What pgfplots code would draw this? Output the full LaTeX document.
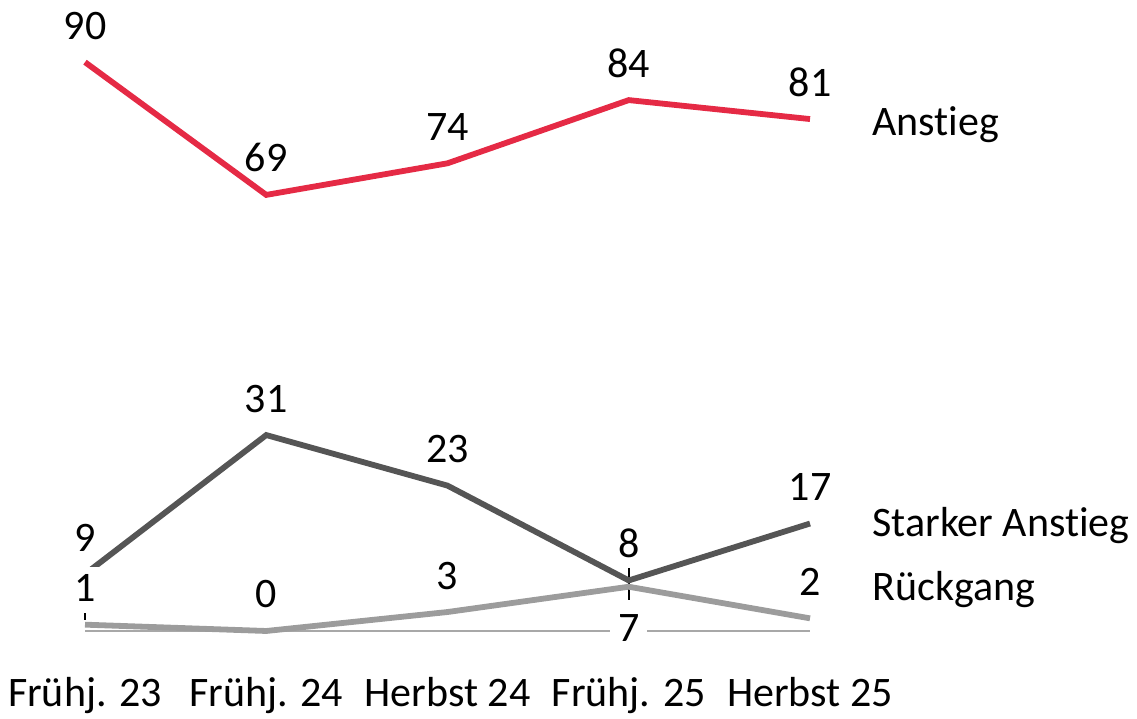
\documentclass[border=0pt]{standalone}
\usepackage{pgfplots}
\pgfplotsset{compat=1.18}
\usepackage{fontspec}
\setmainfont{Carlito}[Ligatures={NoCommon}]
\definecolor{cRed}{HTML}{E52A45}
\definecolor{cDark}{HTML}{555555}
\definecolor{cLight}{HTML}{9C9C9C}
\definecolor{cBase}{HTML}{A8A8A8}
\begin{document}
\fontsize{21}{25}\selectfont
\begin{tikzpicture}
\begin{axis}[
  scale only axis,
  width=362.5pt, height=284.4pt,
  xmin=0, xmax=4, ymin=0, ymax=90,
  clip=false,
  axis line style={draw=none},
  tick style={draw=none},
  ytick=\empty,
  xtick={0,1,2,3,4},
  xticklabels={Frühj. 23, Frühj. 24, Herbst 24, Frühj. 25, Herbst 25},
  xticklabel style={anchor=base, yshift=-38pt, font=\fontsize{21}{25}\selectfont},
  every node near coord/.style={anchor=base, yshift=11.5pt, font=\fontsize{21}{25}\selectfont, text=black},
  /pgf/number format/assume math mode=true,
]
% bounding box corners
\coordinate (bbA) at (axis cs:-0.469,-13.77);
\coordinate (bbB) at (axis cs:5.804,99.84);
% baseline
\addplot[cBase, line width=1pt, forget plot] coordinates {(0,0) (4,0)};
% small ticks
\addplot[black, line width=0.9pt, forget plot] coordinates {(0,1.75) (0,2.85)};
\addplot[black, line width=0.9pt, forget plot] coordinates {(3,9.97) (3,4.9)};
% series
\addplot[cLight, line width=2.9pt] coordinates {(0,1) (1,0) (2,3) (3,7) (4,2)};
\addplot[cDark, line width=2.9pt, nodes near coords] coordinates {(0,9) (1,31) (2,23) (3,8) (4,17)};
\addplot[draw=none, nodes near coords, every node near coord/.style={anchor=base, yshift=11.5pt, fill=white, inner sep=4pt, font=\fontsize{21}{25}\selectfont, text=black}] coordinates {(0,1) (1,0) (2,3) (4,2)};
\addplot[cRed, line width=2.9pt, nodes near coords] coordinates {(0,90) (1,69) (2,74) (3,84) (4,81)};
\addplot[draw=none, nodes near coords, every node near coord/.style={anchor=base, yshift=-27.5pt, fill=white, inner xsep=4pt, inner ysep=1pt, font=\fontsize{21}{25}\selectfont}] coordinates {(3,7)};
% right labels
\node[anchor=base west, inner sep=0pt] at (axis cs:4.342,78.4) {Anstieg};
\node[anchor=base west, inner sep=0pt] at (axis cs:4.342,14.9) {Starker Anstieg};
\node[anchor=base west, inner sep=0pt] at (axis cs:4.342,4.75) {Rückgang};
\end{axis}
\pgfresetboundingbox
\path (bbA) rectangle (bbB);
\end{tikzpicture}
\end{document}
